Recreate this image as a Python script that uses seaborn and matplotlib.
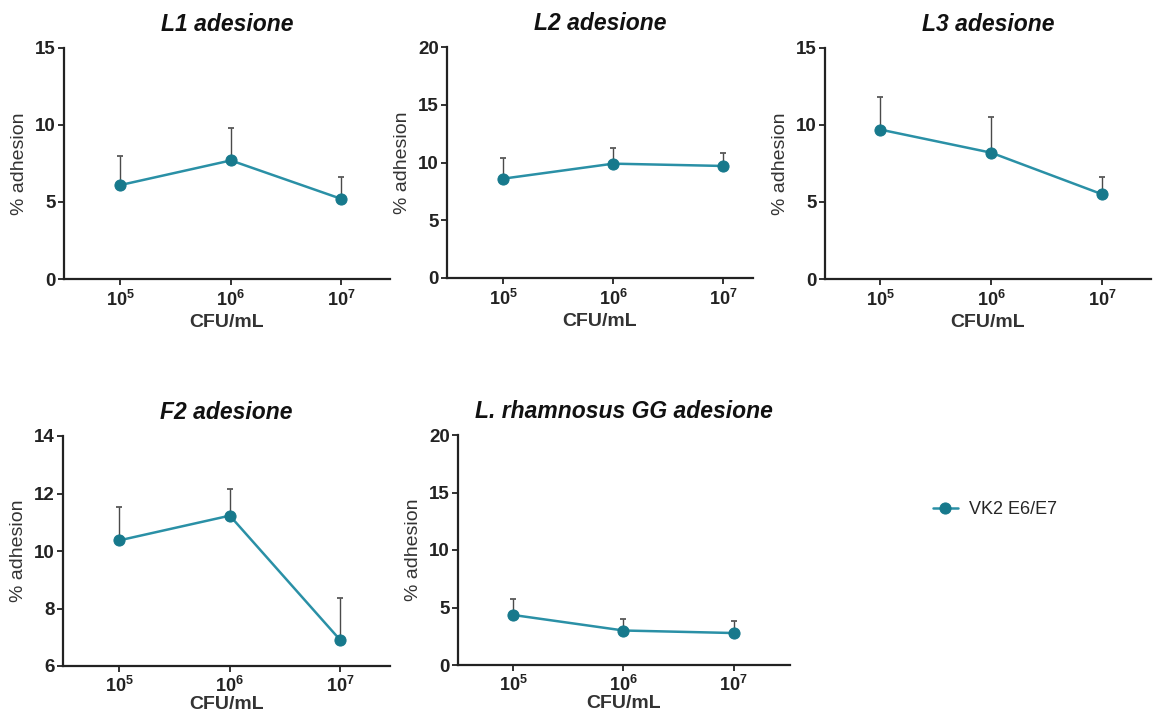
import matplotlib
matplotlib.use("Agg")
import matplotlib.pyplot as plt
import seaborn as sns
import pandas as pd
import numpy as np

sns.set_theme(style="ticks")
plt.rcParams['font.family'] = ['Liberation Sans', 'DejaVu Sans']
plt.rcParams['mathtext.fontset'] = 'custom'
plt.rcParams['mathtext.rm'] = 'Liberation Sans:bold'
plt.rcParams['mathtext.bf'] = 'Liberation Sans:bold'
plt.rcParams['mathtext.it'] = 'Liberation Sans:bold:italic'

# ---- data ----
cfu = [1e5, 1e6, 1e7]
tick_labels = [r'$10^5$', r'$10^6$', r'$10^7$']
series_name = "VK2 E6/E7"

titles = ["L1 adesione", "L2 adesione", "L3 adesione", "F2 adesione", "L. rhamnosus GG adesione"]
l1_mean = [6.1, 7.7, 5.2]
l1_sd = [1.9, 2.1, 1.45]
l2_mean = [8.6, 9.9, 9.7]
l2_sd = [1.8, 1.35, 1.1]
l3_mean = [9.7, 8.2, 5.5]
l3_sd = [2.1, 2.3, 1.15]
f2_mean = [10.37, 11.23, 6.9]
f2_sd = [1.16, 0.93, 1.47]
lgg_mean = [4.35, 3.0, 2.78]
lgg_sd = [1.4, 0.98, 1.03]

means = [l1_mean, l2_mean, l3_mean, f2_mean, lgg_mean]
sds = [l1_sd, l2_sd, l3_sd, f2_sd, lgg_sd]
ylims = [(0, 15), (0, 20), (0, 15), (6, 14), (0, 20)]
yticks = [[0, 5, 10, 15], [0, 5, 10, 15, 20], [0, 5, 10, 15], [6, 8, 10, 12, 14], [0, 5, 10, 15, 20]]

# ---- layout (pixel boxes: left, right, top, bottom) ----
W, H = 1156, 715
boxes = [(64, 390, 48, 279), (447, 753, 47, 278), (825, 1151, 48, 279),
         (63, 390, 436, 666), (458, 790, 435, 665)]
xlims = [(10**4.49, 10**7.44), (10**4.49, 10**7.27), (10**4.50, 10**7.44),
         (10**4.49, 10**7.45), (10**4.50, 10**7.51)]

line_color = "#2a90a6"
marker_color = "#17798c"
err_color = "#4a4a4a"

fig = plt.figure(figsize=(W / 100, H / 100), dpi=100)
fig.patch.set_facecolor("white")

handle = None
for i in range(5):
    l, r, t, b = boxes[i]
    ax = fig.add_axes([l / W, 1 - b / H, (r - l) / W, (b - t) / H])
    ax.set_facecolor("white")
    df = pd.DataFrame({"CFU/mL": cfu, "mean": means[i], "sd": sds[i]})
    ax.errorbar(df["CFU/mL"], df["mean"], yerr=[np.zeros(len(df)), df["sd"]],
                fmt="none", ecolor=err_color, elinewidth=1.0, capsize=2.5,
                capthick=1.2, zorder=1)
    sns.lineplot(data=df, x="CFU/mL", y="mean", ax=ax, color=line_color,
                 linewidth=1.8, marker="o", markersize=8,
                 markerfacecolor=marker_color, markeredgecolor=marker_color,
                 label=series_name, zorder=3, legend=False)
    ax.set_xscale("log")
    ax.set_xlim(*xlims[i])
    ax.set_ylim(*ylims[i])
    ax.set_xticks(cfu)
    ax.set_xticklabels(tick_labels)
    ax.minorticks_off()
    ax.set_yticks(yticks[i])
    ax.set_yticklabels([str(v) for v in yticks[i]], fontweight="bold")
    for s in ["top", "right"]:
        ax.spines[s].set_visible(False)
    for s in ["left", "bottom"]:
        ax.spines[s].set_color("#222222")
        ax.spines[s].set_linewidth(1.6)
    bottom_row = i >= 3
    ax.tick_params(axis="both", direction="out", length=4, width=1.3,
                   color="#222222", labelcolor="#222222")
    ax.tick_params(axis="y", labelsize=13.5, pad=2)
    ax.tick_params(axis="x", labelsize=13, pad=3 if bottom_row else 4)
    ax.set_ylabel("% adhesion", fontsize=14, color="#333333", labelpad=5)
    ax.set_xlabel("CFU/mL", fontsize=14, fontweight="bold", color="#333333",
                  labelpad=0 if bottom_row else 3)
    ax.set_title(titles[i], fontsize=16.5, fontweight="bold", style="italic",
                 color="#111111", pad=12)
    ax.grid(False)
    if handle is None:
        handle = ax.get_lines()[-1]

fig.legend([handle], [series_name], loc="center left",
           bbox_to_anchor=(926 / W, 1 - 510 / H), frameon=False,
           borderaxespad=0, fontsize=13, handlelength=1.35, handletextpad=0.65)

fig.savefig("out.png", dpi=100, facecolor="white")
